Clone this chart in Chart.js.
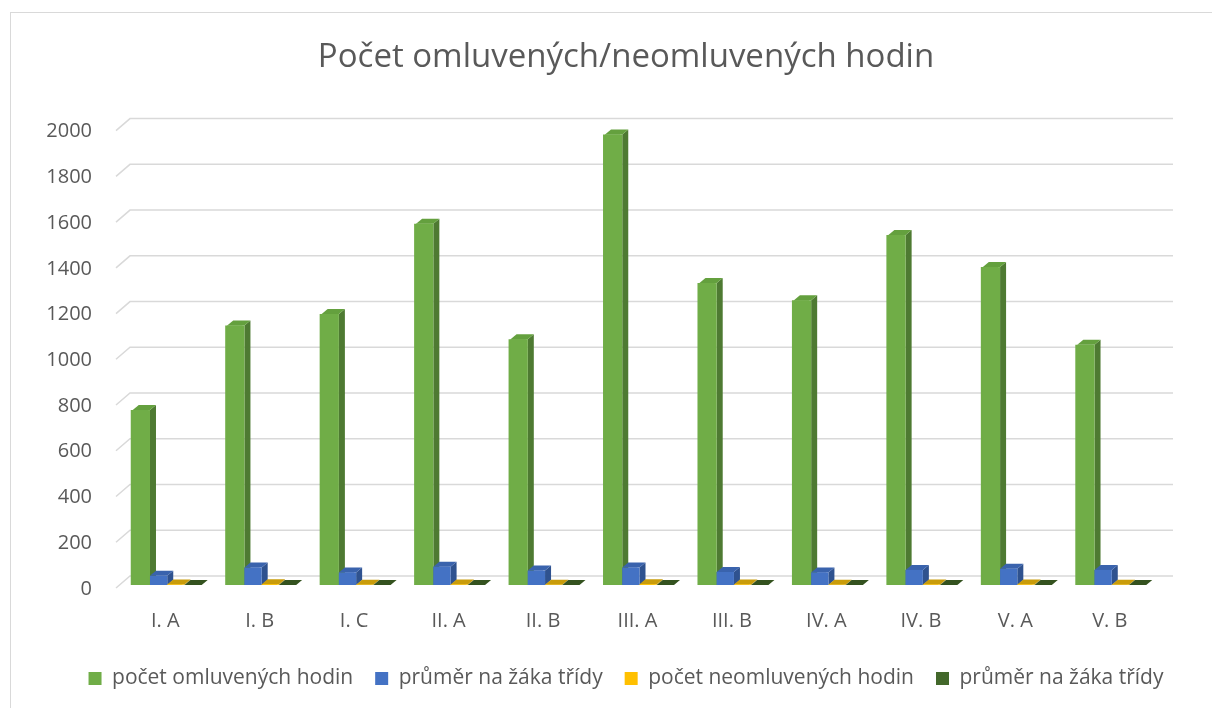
<!DOCTYPE html>
<html lang="cs">
<head>
    <meta charset="UTF-8">
    <title>Počet omluvených/neomluvených hodin</title>
    <script src="https://cdn.jsdelivr.net/npm/chart.js"></script>
    <style>
        body {
            margin: 0;
            padding: 0;
            background: #fff;
        }

        .wrap {
            position: relative;
            width: 1212px;
            height: 708px;
        }

        .frame {
            position: absolute;
            left: 10px;
            top: 12px;
            right: -10px;
            bottom: -10px;
            border-top: 1.5px solid #d9d9d9;
            border-left: 1.5px solid #d9d9d9;
        }

        canvas {
            position: absolute;
            left: 0;
            top: 0;
        }
    </style>
</head>
<body>
<div class="wrap">
    <div class="frame"></div>
    <canvas id="chart" width="1212" height="708"></canvas>
</div>

<script>
    // data
    var tridy = ['I. A', 'I. B', 'I. C', 'II. A', 'II. B', 'III. A', 'III. B', 'IV. A', 'IV. B', 'V. A', 'V. B'];
    var omluvene = [765, 1135, 1185, 1580, 1075, 1970, 1320, 1245, 1530, 1390, 1050];
    var omluvenePrumer = [40, 76, 55, 80, 63, 76, 57, 55, 66, 71, 66];
    var neomluvene = [2, 3, 1, 2, 1, 3, 2, 1, 2, 2, 1];
    var neomluvenePrumer = [0.1, 0.1, 0, 0.1, 0, 0.1, 0.1, 0, 0.1, 0.1, 0];
    var yTicks = [0, 200, 400, 600, 800, 1000, 1200, 1400, 1600, 1800, 2000];

    // barvy: predni stena, bok, vrch
    var faces = [
        ['#70ad47', '#4e7a32', '#64a03e'],
        ['#4472c4', '#2f528f', '#3a63ad'],
        ['#ffc000', '#b88a00', '#c99c0a'],
        ['#43682b', '#2c451b', '#34521f']
    ];

    var DX = 6, DY = -5;      // hloubka sloupcu
    var GX = 14, GY = -12;    // hloubka mrizky

    // mrizka v "3D" - zadni stena + sikme cary vlevo
    var gridPlugin = {
        id: 'grid3d',
        beforeDatasetsDraw: function (chart) {
            var ctx = chart.ctx;
            var y = chart.scales.y;
            var area = chart.chartArea;
            ctx.save();
            ctx.strokeStyle = '#d9d9d9';
            ctx.lineWidth = 1.5;
            yTicks.forEach(function (v) {
                var py = y.getPixelForValue(v) + 3;
                ctx.beginPath();
                ctx.moveTo(area.left - 2, py);
                ctx.lineTo(area.left - 2 + GX, py + GY);
                ctx.lineTo(area.right + GX + 2, py + GY);
                ctx.stroke();
            });
            ctx.restore();
        },
        afterDatasetsDraw: function (chart) {
            var ctx = chart.ctx;
            ctx.save();
            for (var i = 0; i < chart.data.datasets.length; i++) {
                var meta = chart.getDatasetMeta(i);
                var c = faces[i];
                meta.data.forEach(function (bar) {
                    var p = bar.getProps(['x', 'y', 'base', 'width'], true);
                    var l = p.x - p.width / 2 + 2, r = p.x + p.width / 2 + 2;
                    var t = Math.min(p.y, p.base), b = p.base;
                    // bok
                    ctx.fillStyle = c[1];
                    ctx.beginPath();
                    ctx.moveTo(r, t);
                    ctx.lineTo(r + DX, t + DY);
                    ctx.lineTo(r + DX, b + DY);
                    ctx.lineTo(r, b);
                    ctx.closePath();
                    ctx.fill();
                    // vrch
                    ctx.fillStyle = c[2];
                    ctx.beginPath();
                    ctx.moveTo(l, t);
                    ctx.lineTo(l + DX, t + DY);
                    ctx.lineTo(r + DX, t + DY);
                    ctx.lineTo(r, t);
                    ctx.closePath();
                    ctx.fill();
                    // predni stena
                    ctx.fillStyle = c[0];
                    ctx.fillRect(l, t, r - l, b - t);
                });
            }
            ctx.restore();
        }
    };

    Chart.defaults.font.family = "'Open Sans', sans-serif";
    Chart.defaults.color = '#595959';

    var ctx = document.getElementById('chart').getContext('2d');
    var chart = new Chart(ctx, {
        type: 'bar',
        data: {
            labels: tridy,
            datasets: [{
                label: 'počet omluvených hodin',
                data: omluvene,
                backgroundColor: faces[0][0]
            }, {
                label: 'průměr na žáka třídy',
                data: omluvenePrumer,
                backgroundColor: faces[1][0]
            }, {
                label: 'počet neomluvených hodin',
                data: neomluvene,
                backgroundColor: faces[2][0]
            }, {
                label: 'průměr na žáka třídy',
                data: neomluvenePrumer,
                backgroundColor: faces[3][0]
            }]
        },
        options: {
            responsive: false,
            animation: false,
            layout: {
                padding: { left: 40, right: 0, top: 0, bottom: 9 }
            },
            datasets: {
                bar: {
                    categoryPercentage: 0.73,
                    barPercentage: 1.0
                }
            },
            scales: {
                x: {
                    grid: { display: false },
                    border: { display: false },
                    ticks: {
                        padding: 16,
                        font: { size: 20 },
                        maxRotation: 0
                    },
                    afterFit: function (s) { s.height = 61; }
                },
                y: {
                    min: 0,
                    max: 2000,
                    grid: { display: false },
                    border: { display: false },
                    afterBuildTicks: function (s) {
                        s.ticks = yTicks.map(function (v) { return { value: v }; });
                    },
                    ticks: {
                        padding: 18,
                        labelOffset: 4,
                        font: { size: 20 },
                        callback: function (v) { return String(v); }
                    },
                    afterFit: function (s) { s.width = 78; }
                },
                // prazdna osa vpravo jen kvuli mistu
                y2: {
                    position: 'right',
                    display: true,
                    grid: { display: false },
                    border: { display: false },
                    ticks: { display: false },
                    afterFit: function (s) { s.width = 55; }
                }
            },
            plugins: {
                title: {
                    display: true,
                    text: 'Počet omluvených/neomluvených hodin',
                    color: '#595959',
                    font: { size: 33, weight: 'normal' },
                    padding: { top: 38, bottom: 50 }
                },
                legend: {
                    position: 'bottom',
                    labels: {
                        boxWidth: 13,
                        boxHeight: 13,
                        padding: 22,
                        font: { size: 21 }
                    }
                },
                tooltip: { enabled: false }
            }
        },
        plugins: [gridPlugin]
    });
</script>
</body>
</html>
